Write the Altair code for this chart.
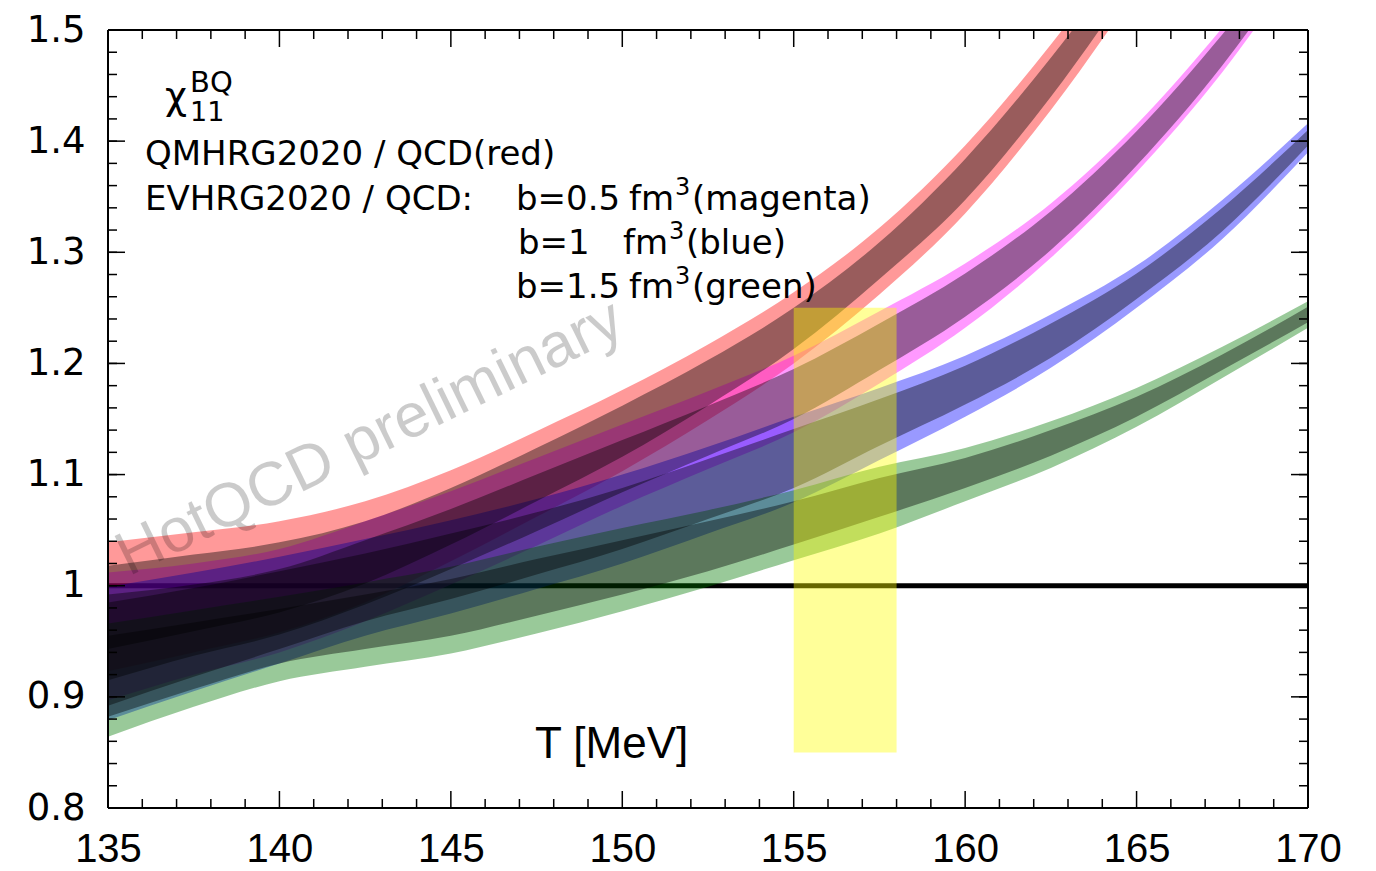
import altair as alt
import pandas as pd

# ---------------- data ----------------
T = [135, 137.5, 140, 142.5, 145, 147.5, 150, 152.5, 155, 157.5, 160, 162.5, 165, 167.5, 170]

# QMHRG2020 / QCD (red)
red_olo = [0.923, 0.940, 0.958, 0.985, 1.022, 1.062, 1.103, 1.149, 1.200, 1.262, 1.335, 1.428, 1.535, 1.640, 1.760]
red_ilo = [0.943, 0.959, 0.976, 1.002, 1.037, 1.076, 1.116, 1.162, 1.213, 1.276, 1.347, 1.440, 1.547, 1.652, 1.772]
red_ihi = [1.018, 1.028, 1.039, 1.058, 1.088, 1.124, 1.162, 1.203, 1.250, 1.309, 1.384, 1.475, 1.578, 1.688, 1.808]
red_ohi = [1.039, 1.048, 1.058, 1.076, 1.104, 1.139, 1.176, 1.217, 1.264, 1.322, 1.396, 1.487, 1.590, 1.700, 1.820]

# EVHRG2020 / QCD, b = 0.5 fm^3 (magenta)
mag_olo = [0.897, 0.920, 0.940, 0.968, 1.001, 1.036, 1.072, 1.105, 1.138, 1.182, 1.232, 1.295, 1.372, 1.462, 1.570]
mag_ilo = [0.915, 0.937, 0.956, 0.983, 1.015, 1.049, 1.084, 1.117, 1.150, 1.194, 1.242, 1.302, 1.378, 1.468, 1.576]
mag_ihi = [0.992, 1.001, 1.015, 1.041, 1.069, 1.100, 1.131, 1.162, 1.195, 1.236, 1.281, 1.337, 1.409, 1.496, 1.594]
mag_ohi = [1.012, 1.020, 1.033, 1.058, 1.085, 1.115, 1.145, 1.175, 1.207, 1.247, 1.290, 1.344, 1.415, 1.502, 1.600]

# EVHRG2020 / QCD, b = 1 fm^3 (blue)
blue_olo = [0.879, 0.905, 0.930, 0.955, 0.975, 0.997, 1.020, 1.047, 1.075, 1.113, 1.152, 1.196, 1.250, 1.312, 1.390]
blue_ilo = [0.892, 0.918, 0.943, 0.968, 0.988, 1.010, 1.033, 1.060, 1.088, 1.126, 1.163, 1.205, 1.258, 1.319, 1.396]
blue_ihi = [0.985, 0.998, 1.013, 1.029, 1.047, 1.066, 1.088, 1.114, 1.141, 1.168, 1.198, 1.236, 1.281, 1.340, 1.410]
blue_ohi = [0.999, 1.012, 1.026, 1.042, 1.059, 1.078, 1.100, 1.125, 1.152, 1.178, 1.207, 1.244, 1.288, 1.347, 1.416]

# EVHRG2020 / QCD, b = 1.5 fm^3 (green)
green_olo = [0.864, 0.891, 0.914, 0.927, 0.939, 0.957, 0.977, 0.999, 1.023, 1.047, 1.076, 1.106, 1.143, 1.187, 1.232]
green_ilo = [0.882, 0.907, 0.930, 0.943, 0.955, 0.973, 0.992, 1.013, 1.037, 1.062, 1.088, 1.117, 1.152, 1.194, 1.237]
green_ihi = [0.955, 0.967, 0.979, 0.992, 1.006, 1.024, 1.041, 1.058, 1.076, 1.097, 1.115, 1.140, 1.170, 1.208, 1.251]
green_ohi = [0.966, 0.978, 0.990, 1.003, 1.017, 1.035, 1.052, 1.068, 1.086, 1.107, 1.124, 1.148, 1.178, 1.215, 1.256]

band_names = ["red", "magenta", "blue", "green"]
band_colors = ["#ff0000", "#ff00ff", "#0000ff", "#007800"]

# yellow T_c region
tc_T = [155, 158]
tc_y = [0.85, 1.25]

# axis ticks
x_major = [135, 140, 145, 150, 155, 160, 165, 170]
x_minor = [t for t in range(135, 171) if t % 5 != 0]
y_major = [0.8, 0.9, 1.0, 1.1, 1.2, 1.3, 1.4, 1.5]
y_minor = [round(0.8 + 0.02 * i, 2) for i in range(36)]

# ---------------- geometry ----------------
W, H = 1200, 778
XMIN, XMAX, YMIN, YMAX = 135, 170, 0.8, 1.5


def px2T(px):
    return XMIN + (px - 108) * (XMAX - XMIN) / W


def py2y(py):
    return YMAX - (py - 30) * (YMAX - YMIN) / H


xscale = alt.Scale(domain=[XMIN, XMAX], nice=False, zero=False)
yscale = alt.Scale(domain=[YMIN, YMAX], nice=False, zero=False)
xaxis = alt.Axis(values=x_major, title=None, grid=False, ticks=False, domain=False,
                 labelFlush=False, labelOverlap=False, labelFont="Liberation Sans",
                 labelFontSize=40, labelPadding=21, labelColor="black", format="d")
yaxis = alt.Axis(values=y_major, title=None, grid=False, ticks=False, domain=False,
                 labelFlush=False, labelOverlap=False, labelFont="DejaVu Sans",
                 labelFontSize=37, labelPadding=23, labelColor="black", format="~g")


def X(f):
    return alt.X(f, type="quantitative", scale=xscale, axis=xaxis)


def Y(f):
    return alt.Y(f, type="quantitative", scale=yscale, axis=yaxis)


series = {
    "red": (red_olo, red_ilo, red_ihi, red_ohi),
    "magenta": (mag_olo, mag_ilo, mag_ihi, mag_ohi),
    "blue": (blue_olo, blue_ilo, blue_ihi, blue_ohi),
    "green": (green_olo, green_ilo, green_ihi, green_ohi),
}
frames = []
for name in band_names:
    olo, ilo, ihi, ohi = series[name]
    frames.append(pd.DataFrame({"T": T, "olo": olo, "ilo": ilo, "ihi": ihi,
                                "ohi": ohi, "band": name}))
df_all = pd.concat(frames, ignore_index=True)

layers = []

# y = 1 reference line (underneath the bands)
layers.append(alt.Chart(pd.DataFrame({"y": [1.0]})).mark_rule(
    color="black", strokeWidth=5).encode(y=Y("y")))

# light outer bands, in drawing order
for name, col, fr in zip(band_names, band_colors, frames):
    layers.append(alt.Chart(fr).mark_area(
        color=col, opacity=0.4, clip=True, interpolate="monotone").encode(
        x=X("T"), y=Y("olo"), y2="ohi"))

# dark inner bands
layers.append(alt.Chart(df_all).mark_area(
    color="black", opacity=0.4, clip=True, interpolate="monotone").encode(
    x=X("T"), y=Y("ilo"), y2="ihi", detail="band:N"))

# yellow rectangle
layers.append(alt.Chart(pd.DataFrame({"x": [tc_T[0]], "x2": [tc_T[1]],
                                      "y": [tc_y[0]], "y2": [tc_y[1]]})).mark_rect(
    color="#ffff00", opacity=0.4).encode(x=X("x"), x2="x2", y=Y("y"), y2="y2"))

# watermark
layers.append(alt.Chart(pd.DataFrame({"x": [px2T(378)], "y": [py2y(455)]})).mark_text(
    text="HotQCD preliminary", font="Liberation Sans", fontSize=62, angle=334,
    align="center", baseline="alphabetic", color="black", opacity=0.2).encode(
    x=X("x"), y=Y("y")))


# ticks (pointing inward on all four sides)
def tick_layer(vals, side, length):
    base = alt.Chart(pd.DataFrame({"v": vals})).mark_rule(color="black", strokeWidth=1.5)
    if side == "bottom":
        return base.encode(x=X("v"), y=alt.value(H), y2=alt.value(H - length))
    if side == "top":
        return base.encode(x=X("v"), y=alt.value(0), y2=alt.value(length))
    if side == "left":
        return base.encode(y=Y("v"), x=alt.value(0), x2=alt.value(length))
    return base.encode(y=Y("v"), x=alt.value(W), x2=alt.value(W - length))


for side in ["bottom", "top"]:
    layers.append(tick_layer(x_major, side, 17))
    layers.append(tick_layer(x_minor, side, 9))
for side in ["left", "right"]:
    layers.append(tick_layer(y_major, side, 17))
    layers.append(tick_layer(y_minor, side, 9))

# frame
frame_df = pd.DataFrame({"a": [0]})
for enc in [dict(x=alt.value(0), y=alt.value(0), y2=alt.value(H)),
            dict(x=alt.value(W), y=alt.value(0), y2=alt.value(H)),
            dict(y=alt.value(0), x=alt.value(0), x2=alt.value(W)),
            dict(y=alt.value(H), x=alt.value(0), x2=alt.value(W))]:
    layers.append(alt.Chart(frame_df).mark_rule(color="black", strokeWidth=2).encode(**enc))


# annotation texts
def label(text, px, py, size, font="DejaVu Sans", align="left", baseline="alphabetic"):
    return alt.Chart(pd.DataFrame({"x": [px2T(px)], "y": [py2y(py)]})).mark_text(
        text=text, font=font, fontSize=size, align=align, baseline=baseline,
        color="black").encode(x=X("x"), y=Y("y"))


layers += [
    label("χ", 165, 109, 38),
    label("BQ", 190, 92, 29),
    label("11", 190, 121, 27),
    label("QMHRG2020 / QCD(red)", 145, 165, 34),
    label("EVHRG2020 / QCD:", 145, 209.5, 34),
    label("b=0.5", 516, 209.5, 34),
    label("fm", 629, 209.5, 34),
    label("3", 675, 195, 24),
    label("(magenta)", 692, 209.5, 34),
    label("b=1", 518, 253.5, 34),
    label("fm", 623, 253.5, 34),
    label("3", 669, 239, 24),
    label("(blue)", 686, 253.5, 34),
    label("b=1.5", 516, 298, 34),
    label("fm", 629, 298, 34),
    label("3", 675, 283.5, 24),
    label("(green)", 692, 298, 34),
    label("T [MeV]", 535, 758, 44, font="Liberation Sans"),
]

chart = alt.layer(*layers).properties(
    width=W, height=H,
    padding={"left": 108, "top": 30, "right": 68, "bottom": 63},
    autosize=alt.AutoSizeParams(type="none"),
    background="white",
).configure_view(stroke=None)

chart.save("out.html", embed_options={"renderer": "svg", "actions": False})
